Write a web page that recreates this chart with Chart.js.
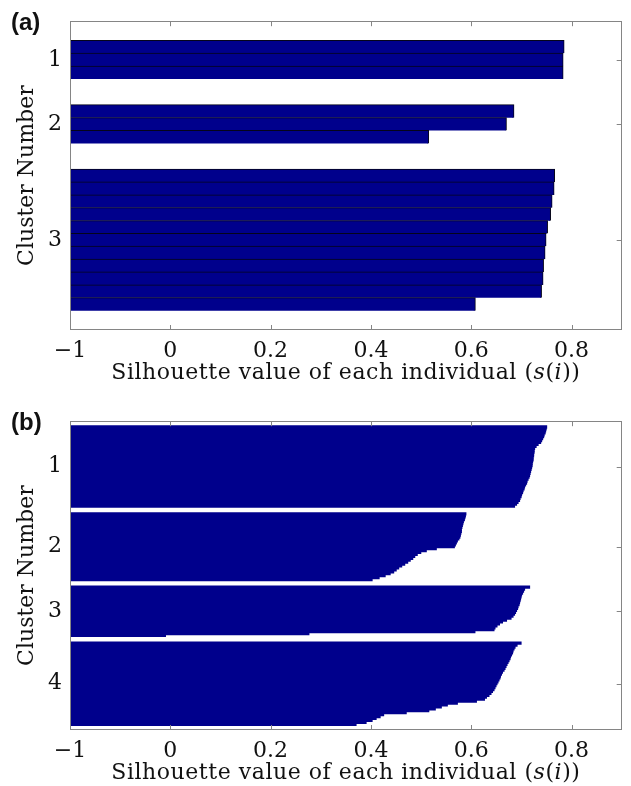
<!DOCTYPE html>
<html>
<head>
<meta charset="utf-8">
<title>Silhouette plots</title>
<script src="https://cdn.jsdelivr.net/npm/chart.js@4.4.1/dist/chart.umd.min.js"></script>
<style>
  html, body { margin: 0; padding: 0; background: #fff; overflow: hidden; }
  canvas { position: absolute; left: 0; }
</style>
</head>
<body>
<canvas id="chartA" width="631" height="400" style="top:0"></canvas>
<canvas id="chartB" width="631" height="400" style="top:400px"></canvas>
<script>
// x axis: the left end of the axis carries the "−1" label
const xTickValues = [-0.2, 0, 0.2, 0.4, 0.6, 0.8];
const xTickLabels = ['\u22121', '0', '0.2', '0.4', '0.6', '0.8'];

// (a) silhouette values per individual, three clusters (sorted high to low)
const a1 = [0.785, 0.783, 0.783];
const a2 = [0.685, 0.670, 0.515];
const a3 = [0.766, 0.765, 0.761, 0.758, 0.752, 0.749, 0.747, 0.744, 0.743, 0.740, 0.608];
const aLabels = ['1', '2', '3'];

// (b) silhouette values per individual, four clusters (sorted high to low)
const b1 = [0.750, 0.749, 0.748, 0.747, 0.745, 0.744, 0.742, 0.740, 0.738, 0.733,
            0.729, 0.726, 0.725, 0.725, 0.724, 0.724, 0.723, 0.723, 0.722, 0.721,
            0.721, 0.720, 0.719, 0.718, 0.717, 0.716, 0.715, 0.713, 0.711, 0.710,
            0.708, 0.706, 0.705, 0.703, 0.702, 0.700, 0.699, 0.697, 0.696, 0.693,
            0.690, 0.686];
const b2 = [0.589, 0.588, 0.587, 0.586, 0.584, 0.583, 0.582, 0.581, 0.580, 0.580,
            0.579, 0.578, 0.577, 0.575, 0.572, 0.570, 0.568, 0.566, 0.530, 0.510,
            0.499, 0.492, 0.487, 0.483, 0.478, 0.473, 0.467, 0.461, 0.455, 0.450,
            0.445, 0.438, 0.428, 0.416, 0.402];
const b3 = [0.716, 0.706, 0.704, 0.702, 0.700, 0.699, 0.698, 0.697, 0.696, 0.695,
            0.693, 0.692, 0.690, 0.688, 0.686, 0.683, 0.679, 0.670, 0.662, 0.656,
            0.651, 0.647, 0.645, 0.607, 0.276, -0.01];
const b4 = [0.699, 0.691, 0.687, 0.685, 0.683, 0.682, 0.680, 0.678, 0.677, 0.675,
            0.673, 0.671, 0.669, 0.667, 0.665, 0.662, 0.660, 0.658, 0.657, 0.655,
            0.653, 0.651, 0.649, 0.647, 0.645, 0.642, 0.639, 0.635, 0.630, 0.626,
            0.610, 0.572, 0.552, 0.540, 0.528, 0.515, 0.470, 0.425, 0.418, 0.410,
            0.402, 0.390, 0.370];
const bLabels = ['1', '2', '3', '4'];

const NAVY = '#00008c';
const X_MIN = -0.2, X_MAX = 0.9;
const SERIF = 'DejaVu Serif';

// stack the clusters top to bottom, one unit per individual, with gaps between clusters
function buildRows(clusters, margin, gap) {
  const points = [], centers = [];
  let edge = margin;
  clusters.forEach(vals => {
    vals.forEach((v, i) => points.push({ x: [X_MIN, v], y: edge + i + 0.5 }));
    centers.push(edge + vals.length / 2);
    edge += vals.length + gap;
  });
  return { points, centers, total: edge - gap + margin };
}

// axes box with inward ticks, panel tag and the x caption
const framePlugin = {
  id: 'frame',
  afterDatasetsDraw(chart, args, opts) {
    const { ctx, chartArea: a, scales: { x, y } } = chart;
    ctx.save();
    ctx.strokeStyle = '#858585';
    ctx.lineWidth = 1;
    ctx.strokeRect(Math.round(a.left) + 0.5, Math.round(a.top) + 0.5,
                   Math.round(a.right - a.left) - 1, Math.round(a.bottom - a.top) - 1);
    ctx.beginPath();
    x.ticks.forEach(t => {
      const px = Math.round(x.getPixelForValue(t.value)) + 0.5;
      ctx.moveTo(px, a.top); ctx.lineTo(px, a.top + 5);
      ctx.moveTo(px, a.bottom); ctx.lineTo(px, a.bottom - 5);
    });
    y.ticks.forEach(t => {
      const py = Math.round(y.getPixelForValue(t.value)) + 0.5;
      ctx.moveTo(a.right, py); ctx.lineTo(a.right - 5, py);
    });
    ctx.stroke();

    ctx.fillStyle = '#111';
    ctx.textBaseline = 'middle';
    ctx.textAlign = 'left';
    ctx.font = 'bold 24px "Liberation Sans"';
    ctx.fillText(opts.tag, 11, 23);

    // "Silhouette value of each individual (s(i))" with italic s and i
    const parts = [['Silhouette value of each individual (', false], ['s', true],
                   ['(', false], ['i', true], ['))', false]];
    const fontOf = it => (it ? 'italic ' : '') + '22px "' + SERIF + '"';
    ctx.letterSpacing = '0.55px';
    let w = 0;
    parts.forEach(([s, it]) => { ctx.font = fontOf(it); w += ctx.measureText(s).width; });
    let cx = (a.left + a.right) / 2 - w / 2;
    const cy = a.bottom + 43;
    parts.forEach(([s, it]) => {
      ctx.font = fontOf(it);
      ctx.fillText(s, cx, cy);
      cx += ctx.measureText(s).width;
    });
    ctx.restore();
  }
};

function silhouette(id, tag, clusters, labels, margin, gap, edged) {
  const rows = buildRows(clusters, margin, gap);
  const tickFont = { family: SERIF, size: 22 };
  return new Chart(document.getElementById(id), {
    type: 'bar',
    data: {
      datasets: [{
        data: rows.points,
        backgroundColor: NAVY,
        borderColor: '#05051a',
        // few wide bars get a thin dark edge; dense bars are drawn edge-free
        borderWidth: edged ? { top: 1, bottom: 0, right: 1, left: 0 } : 0,
        borderSkipped: false,
        inflateAmount: edged ? 0.5 : 0.7,
        barPercentage: 1,
        categoryPercentage: 1
      }]
    },
    options: {
      indexAxis: 'y',
      responsive: false,
      animation: false,
      layout: { padding: { top: 12, right: 9.3, left: 0, bottom: 0 } },
      plugins: {
        legend: { display: false },
        tooltip: { enabled: false },
        frame: { tag }
      },
      scales: {
        x: {
          type: 'linear',
          min: X_MIN,
          max: X_MAX,
          offset: false,
          bounds: 'data',
          afterBuildTicks: s => { s.ticks = xTickValues.map(v => ({ value: v })); },
          afterFit: s => { s.height = 70; },
          grid: { display: false, drawTicks: false },
          border: { display: false },
          ticks: {
            callback: (v, i) => xTickLabels[i],
            font: tickFont, color: '#111', padding: 8,
            autoSkip: false, maxRotation: 0
          }
        },
        y: {
          type: 'linear',
          reverse: true,
          min: 0,
          max: rows.total,
          offset: false,
          bounds: 'data',
          afterBuildTicks: s => { s.ticks = rows.centers.map(v => ({ value: v })); },
          afterFit: s => { s.width = 70; },
          grid: { display: false, drawTicks: false },
          border: { display: false },
          ticks: {
            callback: (v, i) => labels[i],
            font: tickFont, color: '#111', padding: 8, autoSkip: false
          },
          title: {
            display: true, text: 'Cluster Number',
            font: tickFont, color: '#111', padding: { top: 14, bottom: 0 }
          }
        }
      }
    },
    plugins: [framePlugin]
  });
}

silhouette('chartA', '(a)', [a1, a2, a3], aLabels, 1.5, 2, true);
silhouette('chartB', '(b)', [b1, b2, b3, b4], bLabels, 2.5, 3, false);
</script>
</body>
</html>
